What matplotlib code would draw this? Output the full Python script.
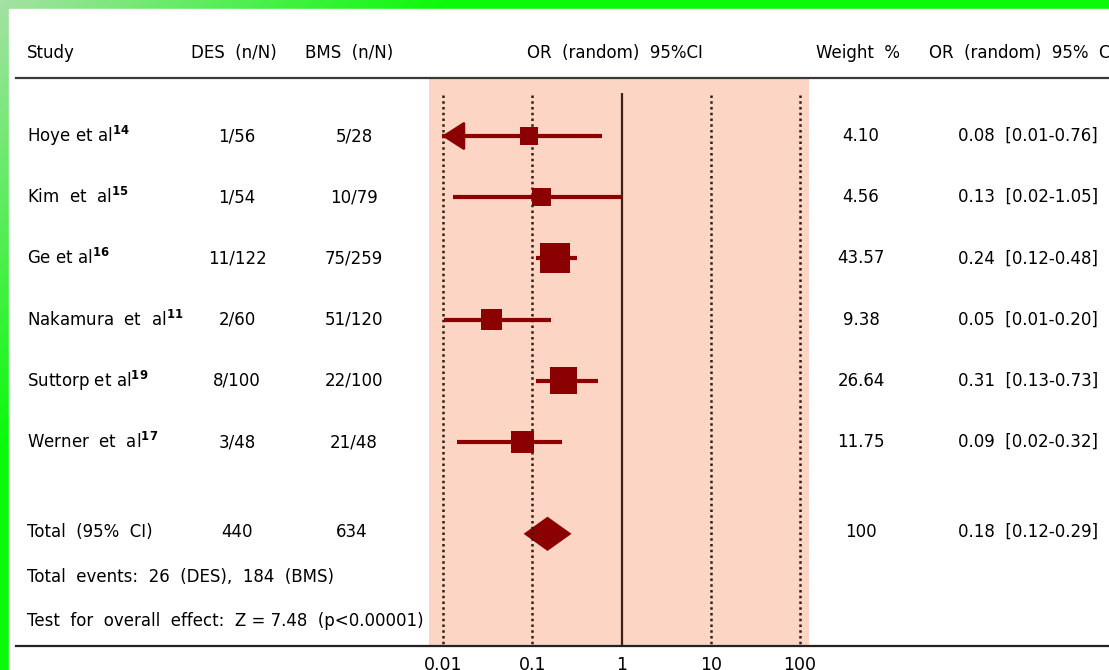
import numpy as np
import matplotlib
matplotlib.use('Agg')
import matplotlib.pyplot as plt
from matplotlib import transforms

plt.rcParams['font.family'] = ['DejaVu Sans']

# table columns
studies = ['Hoye et al$^{\\mathbf{14}}$', 'Kim  et  al$^{\\mathbf{15}}$', 'Ge et al$^{\\mathbf{16}}$',
           'Nakamura  et  al$^{\\mathbf{11}}$', 'Suttorp et al$^{\\mathbf{19}}$', 'Werner  et  al$^{\\mathbf{17}}$']
des = ['1/56', '1/54', '11/122', '2/60', '8/100', '3/48']
bms = ['5/28', '10/79', '75/259', '51/120', '22/100', '21/48']
weights = [4.10, 4.56, 43.57, 9.38, 26.64, 11.75]
weight_text = ['4.10', '4.56', '43.57', '9.38', '26.64', '11.75']
or_text = ['0.08  [0.01-0.76]', '0.13  [0.02-1.05]', '0.24  [0.12-0.48]',
           '0.05  [0.01-0.20]', '0.31  [0.13-0.73]', '0.09  [0.02-0.32]']

# odds ratios as drawn in the plot
or_est = [0.091, 0.127, 0.178, 0.035, 0.224, 0.078]
or_lo = [0.0097, 0.0128, 0.109, 0.0102, 0.109, 0.0142]
or_hi = [0.60, 0.99, 0.32, 0.164, 0.55, 0.213]
truncated = [True, False, False, False, False, False]

total_est, total_lo, total_hi = 0.148, 0.080, 0.275
total_des, total_bms, total_weight = '440', '634', '100'
total_or_text = '0.18  [0.12-0.29]'

ticks = [0.01, 0.1, 1, 10, 100]
tick_labels = ['0.01', '0.1', '1', '10', '100']

W, H = 1109, 670
red = '#8b0000'
fs = 12

fig = plt.figure(figsize=(W / 100, H / 100), dpi=100)

# green frame gradient
bg = fig.add_axes([0, 0, 1, 1], zorder=0)
gx, gy = np.meshgrid(np.arange(W), np.arange(H))
t = np.clip(gx / 450 + gy / 450, 0, 1)[..., None]
pale = np.array([165, 225, 165]) / 255
bright = np.array([10, 250, 10]) / 255
bg.imshow(pale * (1 - t) + bright * t, extent=(0, W, H, 0), aspect='auto')
bg.add_patch(plt.Rectangle((9, 9), W, H, color='white'))
bg.set_xlim(0, W)
bg.set_ylim(H, 0)
bg.axis('off')

# forest plot panel
ax = fig.add_axes([429 / W, 1 - 646 / H, 380 / W, 568 / H], zorder=1)
ax.set_facecolor('#fcd5c4')
ax.set_xscale('log')
ax.set_xlim(10 ** -2.157, 10 ** 2.10)
ax.set_ylim(8.333, -0.948)
for s in ax.spines.values():
    s.set_visible(False)
ax.set_yticks([])
ax.set_xticks(ticks)
ax.set_xticklabels(tick_labels, fontsize=12.5)
ax.xaxis.set_minor_locator(matplotlib.ticker.NullLocator())
ax.tick_params(axis='x', length=0, pad=7)

for v in ticks:
    if v == 1:
        ax.vlines(v, -0.7, 8.333, color='#3a2016', lw=1.6)
    else:
        ax.vlines(v, -0.67, 8.333, color='#2e2018', lw=1.8, linestyles=[(0, (1, 1.3))])

rows = np.arange(len(studies))
for i in rows:
    lo = or_lo[i]
    if truncated[i]:
        ax.annotate('', xy=(lo, i), xytext=(or_est[i], i),
                    arrowprops=dict(arrowstyle='-|>,head_length=0.7,head_width=0.45',
                                    color=red, lw=2, mutation_scale=20,
                                    shrinkA=0, shrinkB=0))
    ax.hlines(i, lo, or_hi[i], color=red, lw=3)
side = 13.3 * np.array(weights) ** 0.216 * 0.72
ax.scatter(or_est, rows, s=side ** 2, marker='s', color=red, zorder=3, linewidths=0)

ty = 6.5
dh = 0.28
ax.fill([total_lo, total_est, total_hi, total_est], [ty, ty - dh, ty, ty + dh], color=red, lw=0)

# table text layer
lay = fig.add_axes([0, 0, 1, 1], zorder=2)
lay.set_xlim(0, W)
lay.set_ylim(H, 0)
lay.axis('off')
lay.patch.set_alpha(0)

lay.plot([16, W], [78, 78], color='#3a3a3a', lw=1.6)
lay.plot([16, W], [646, 646], color='#222222', lw=1.6)

hy = 53
lay.text(27, hy, 'Study', fontsize=fs, va='center', ha='left')
lay.text(234, hy, 'DES  (n/N)', fontsize=fs, va='center', ha='center')
lay.text(349, hy, 'BMS  (n/N)', fontsize=fs, va='center', ha='center')
lay.text(615, hy, 'OR  (random)  95%CI', fontsize=fs, va='center', ha='center')
lay.text(858, hy, 'Weight  %', fontsize=fs, va='center', ha='center')
lay.text(929, hy, 'OR  (random)  95%  CI', fontsize=fs, va='center', ha='left')

tr = transforms.blended_transform_factory(lay.transData, ax.transData)
for i in rows:
    lay.text(27, i, studies[i], fontsize=fs, va='center', ha='left', transform=tr)
    lay.text(237, i, des[i], fontsize=fs, va='center', ha='center', transform=tr)
    lay.text(354, i, bms[i], fontsize=fs, va='center', ha='center', transform=tr)
    lay.text(861, i, weight_text[i], fontsize=fs, va='center', ha='center', transform=tr)
    lay.text(958, i, or_text[i], fontsize=fs, va='center', ha='left', transform=tr)

lay.text(27, 6.47, 'Total  (95%  CI)', fontsize=fs, va='center', ha='left', transform=tr)
lay.text(237, 6.47, total_des, fontsize=fs, va='center', ha='center', transform=tr)
lay.text(352, 6.47, total_bms, fontsize=fs, va='center', ha='center', transform=tr)
lay.text(861, 6.47, total_weight, fontsize=fs, va='center', ha='center', transform=tr)
lay.text(958, 6.47, total_or_text, fontsize=fs, va='center', ha='left', transform=tr)
lay.text(27, 7.21, 'Total  events:  26  (DES),  184  (BMS)', fontsize=fs, va='center', ha='left', transform=tr)
lay.text(27, 7.93, 'Test  for  overall  effect:  Z = 7.48  (p<0.00001)', fontsize=fs,
         va='center', ha='left', transform=tr)

fig.savefig('out.png', dpi=100)
